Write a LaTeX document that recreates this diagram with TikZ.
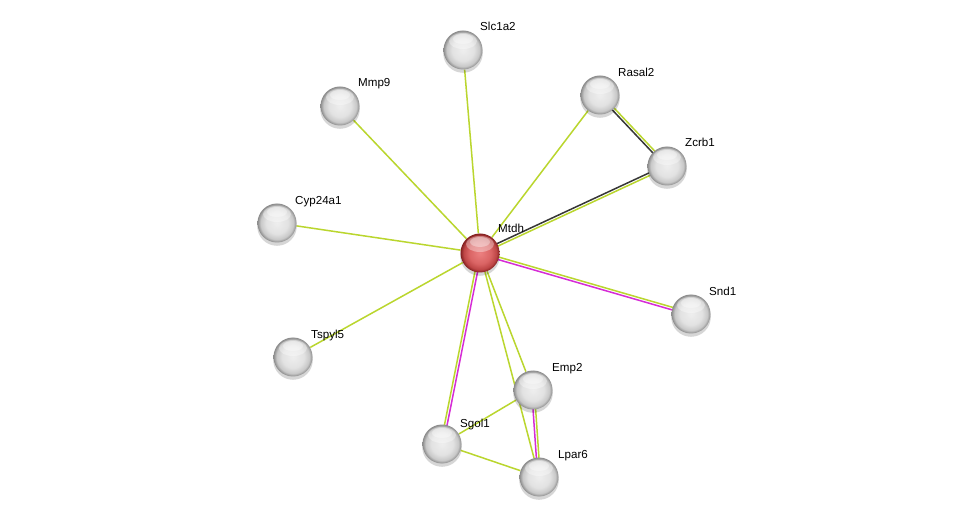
\documentclass[tikz,border=0pt]{standalone}
\usepackage{fontspec}
\setmainfont{Liberation Sans}
\usetikzlibrary{calc,backgrounds}
\definecolor{tm}{RGB}{186,214,46}
\definecolor{ex}{RGB}{214,44,214}
\definecolor{co}{RGB}{55,55,55}
\definecolor{gA}{RGB}{238,238,238}
\definecolor{gB}{RGB}{226,226,226}
\definecolor{gC}{RGB}{200,200,200}
\definecolor{gD}{RGB}{140,140,140}
\definecolor{rA}{RGB}{236,128,128}
\definecolor{rB}{RGB}{218,100,100}
\definecolor{rC}{RGB}{190,70,70}
\definecolor{rD}{RGB}{130,32,32}
\pgfdeclareradialshading{greysphere}{\pgfpoint{0bp}{0bp}}{color(0bp)=(gA); color(14bp)=(gB); color(21bp)=(gC); color(25bp)=(gD); color(50bp)=(gD)}
\pgfdeclareradialshading{redsphere}{\pgfpoint{0bp}{0bp}}{color(0bp)=(rA); color(14bp)=(rB); color(21bp)=(rC); color(25bp)=(rD); color(50bp)=(rD)}
\tikzset{
  prot/.style={circle, minimum size=39pt, inner sep=0pt, shading=greysphere},
  hub/.style={circle, minimum size=39pt, inner sep=0pt, shading=redsphere},
  lbl/.style={anchor=base west, inner sep=0pt, font=\fontsize{11.6}{13}\selectfont},
  edge/.style={line width=1.5pt},
}
\newcommand{\dedge}[4]{%
  \draw[edge,#3] ($(#1)!1.3pt!90:(#2)$) -- ($(#2)!1.3pt!-90:(#1)$);
  \draw[edge,#4] ($(#1)!1.3pt!-90:(#2)$) -- ($(#2)!1.3pt!90:(#1)$);}
\begin{document}
\begin{tikzpicture}[x=1pt,y=-1pt]
\useasboundingbox (0,0) rectangle (975,521);
\node[hub]  (mtdh) at (480,253) {};
\node[prot] (slc)  at (463,50) {};
\node[prot] (mmp)  at (340,106) {};
\node[prot] (ras)  at (600,95) {};
\node[prot] (zcr)  at (667,166) {};
\node[prot] (cyp)  at (277,223) {};
\node[prot] (snd)  at (691,314) {};
\node[prot] (tsp)  at (293,357) {};
\node[prot] (emp)  at (533,390) {};
\node[prot] (sgo)  at (442,444) {};
\node[prot] (lpa)  at (539,477) {};
\foreach \n in {mtdh,slc,mmp,ras,zcr,cyp,snd,tsp,emp,sgo,lpa}{
  \fill[white,opacity=0.35] ($(\n.center)+(0,-9)$) ellipse [x radius=14, y radius=8];
  \fill[white,opacity=0.35] ($(\n.center)+(0,-11)$) ellipse [x radius=10, y radius=5];
}
\begin{pgfonlayer}{background}
\fill[white] (0,0) rectangle (975,521);
\draw[edge,tm] (mtdh) -- (slc);
\draw[edge,tm] (mtdh) -- (mmp);
\draw[edge,tm] (mtdh) -- (ras);
\draw[edge,tm] (mtdh) -- (cyp);
\draw[edge,tm] (mtdh) -- (tsp);
\draw[edge,tm] (mtdh) -- (emp);
\draw[edge,tm] (mtdh) -- (lpa);
\draw[edge,tm] (emp) -- (sgo);
\draw[edge,tm] (sgo) -- (lpa);
\dedge{mtdh}{zcr}{co}{tm}
\dedge{ras}{zcr}{tm}{co}
\dedge{mtdh}{snd}{tm}{ex}
\dedge{mtdh}{sgo}{ex}{tm}
\dedge{emp}{lpa}{tm}{ex}
\foreach \n in {mtdh,slc,mmp,ras,zcr,cyp,snd,tsp,emp,sgo,lpa}{
  \fill[black,opacity=0.16] ($(\n.center)+(0,3)$) circle (19.8);
}
\end{pgfonlayer}
\node[lbl] (lmtdh) at ($(mtdh)+(18,-20)$) {Mtdh};
\node[lbl] (lslc)  at ($(slc)+(17,-19)$) {Slc1a2};
\node[lbl] (lmmp)  at ($(mmp)+(18,-19)$) {Mmp9};
\node[lbl] (lras)  at ($(ras)+(18,-18)$) {Rasal2};
\node[lbl] (lzcr)  at ($(zcr)+(18,-19)$) {Zcrb1};
\node[lbl] (lcyp)  at ($(cyp)+(18,-18)$) {Cyp24a1};
\node[lbl] (lsnd)  at ($(snd)+(18,-18)$) {Snd1};
\node[lbl] (ltsp)  at ($(tsp)+(18,-18)$) {Tspyl5};
\node[lbl] (lemp)  at ($(emp)+(19,-18)$) {Emp2};
\node[lbl] (lsgo)  at ($(sgo)+(18,-17)$) {Sgol1};
\node[lbl] (llpa)  at ($(lpa)+(19,-19)$) {Lpar6};
\end{tikzpicture}
\end{document}
